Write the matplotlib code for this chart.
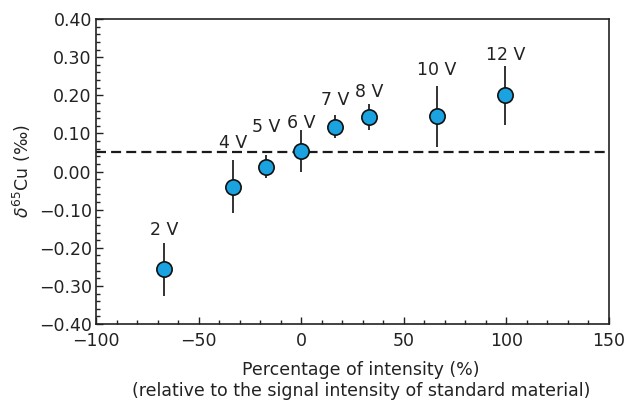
import matplotlib.pyplot as plt
from matplotlib.ticker import MultipleLocator

# voltage settings and measured delta-65Cu
labels = ["2 V", "4 V", "5 V", "6 V", "7 V", "8 V", "10 V", "12 V"]
intensity = [-67, -33, -17, 0, 16.5, 33, 66, 99.5]
delta = [-0.257, -0.040, 0.013, 0.055, 0.117, 0.143, 0.145, 0.200]
err = [0.07, 0.07, 0.03, 0.055, 0.03, 0.033, 0.08, 0.077]
label_y = [-0.154, 0.075, 0.117, 0.127, 0.188, 0.209, 0.266, 0.306]
ref_value = 0.05

plt.rcParams['font.family'] = ['DejaVu Sans']
plt.rcParams['font.size'] = 12.5

fig = plt.figure(figsize=(6.33, 4.01), dpi=100)
ax = fig.add_axes([0.1517, 0.192, 0.8103, 0.7606])

ax.axhline(ref_value, color='#1a1a1a', lw=1.6, dashes=(4.5, 2.3), zorder=1)
ax.errorbar(intensity, delta, yerr=err, fmt='o', ms=11, mfc='#1aa3e0', mec='#111111',
            mew=1.2, ecolor='#222222', elinewidth=1.3, capsize=0, zorder=3)
for x, ly, lab in zip(intensity, label_y, labels):
    ax.text(x, ly, lab, ha='center', va='center', fontsize=12.5, color='#222222')

ax.set_xlim(-100, 150)
ax.set_ylim(-0.40, 0.40)
ax.xaxis.set_major_locator(MultipleLocator(50))
ax.xaxis.set_minor_locator(MultipleLocator(10))
ax.yaxis.set_major_locator(MultipleLocator(0.1))
ax.yaxis.set_minor_locator(MultipleLocator(0.02))
ax.yaxis.set_major_formatter(lambda v, p: f"{v:.2f}".replace('-', '\u2212'))
ax.tick_params(which='both', direction='in', top=False, right=False, width=1.0, colors='#222222')
ax.tick_params(axis='x', which='major', length=5, pad=6)
ax.tick_params(axis='y', which='major', length=5, pad=3)
ax.tick_params(which='minor', length=3)
for s in ax.spines.values():
    s.set_linewidth(1.2)
    s.set_color('#222222')

ax.set_xlabel("Percentage of intensity (%)\n(relative to the signal intensity of standard material)",
              linespacing=1.15, labelpad=8, color='#222222')
ax.xaxis.label.set_x(0.517)
ax.set_ylabel(r"$\delta^{65}$Cu (‰)", color='#222222', labelpad=4)

fig.savefig("out.png", dpi=100)
